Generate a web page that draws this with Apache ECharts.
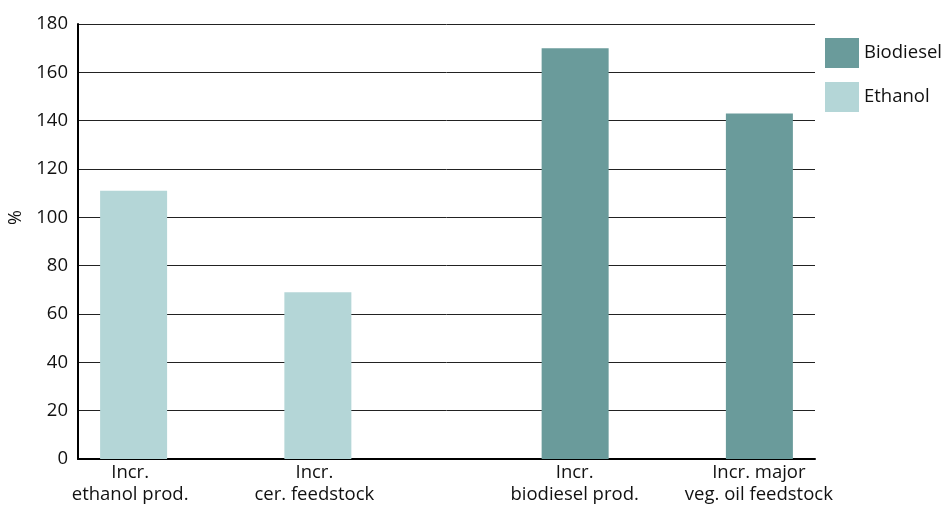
<!DOCTYPE html>
<html>
<head>
<meta charset="utf-8">
<script src="https://cdn.jsdelivr.net/npm/echarts@6/dist/echarts.min.js"></script>
<style>
  html, body { margin: 0; padding: 0; background: #fff; }
  #chart { width: 949px; height: 507px; }
</style>
</head>
<body>
<div id="chart"></div>
<script>
// Percentage increases by fuel type
const categories = [
  'Incr.\nethanol prod.',
  'Incr.\ncer. feedstock',
  'Incr.\nbiodiesel prod.',
  'Incr. major\nveg. oil feedstock'
];
const ethanolValues = [111, 69, null, null];
const biodieselValues = [null, null, 170, 143];
const yTicks = { min: 0, max: 180, interval: 20 };

const FONT = 'Open Sans';
const chart = echarts.init(document.getElementById('chart'), null, { renderer: 'canvas' });

chart.setOption({
  animation: false,
  textStyle: { fontFamily: FONT, color: '#111' },
  grid: { left: 78, right: 134, top: 24, bottom: 48, containLabel: false, outerBoundsMode: 'none' },
  legend: {
    orient: 'vertical',
    left: 825,
    top: 38,
    padding: 0,
    itemWidth: 34,
    itemHeight: 30,
    itemGap: 14,
    icon: 'rect',
    data: ['Biodiesel', 'Ethanol'],
    textStyle: { fontFamily: FONT, fontSize: 18.5, color: '#111' }
  },
  xAxis: {
    type: 'category',
    data: categories,
    axisLine: { lineStyle: { color: '#000', width: 2 } },
    axisTick: { show: false },
    axisLabel: {
      interval: 0,
      margin: 3,
      formatter: function (v, i) {
        // ethanol labels sit under the left bar slot, biodiesel under the right
        const key = i < 2 ? 'e' : 'b';
        return v.split('\n').map(function (s) { return '{' + key + '|' + s + '}'; }).join('\n');
      },
      rich: {
        e: { fontFamily: FONT, fontSize: 18.5, color: '#111', lineHeight: 22, padding: [0, 80, 0, 0] },
        b: { fontFamily: FONT, fontSize: 18.5, color: '#111', lineHeight: 22, padding: [0, 0, 0, 72] }
      }
    }
  },
  yAxis: {
    type: 'value',
    min: yTicks.min,
    max: yTicks.max,
    interval: yTicks.interval,
    name: '%',
    nameLocation: 'middle',
    nameRotate: 90,
    nameGap: 49,
    nameTextStyle: { fontFamily: FONT, fontSize: 18, color: '#111', padding: [0, 0, 0, 48] },
    axisLine: { show: true, lineStyle: { color: '#000', width: 2 } },
    axisTick: { show: false },
    axisLabel: { fontFamily: FONT, fontSize: 18.5, color: '#111', margin: 10 },
    splitLine: { lineStyle: { color: '#222', width: 1 } }
  },
  series: [
    {
      name: 'Ethanol',
      type: 'bar',
      data: ethanolValues,
      barWidth: 67,
      barGap: '9%',
      itemStyle: { color: '#b4d6d7' }
    },
    {
      name: 'Biodiesel',
      type: 'bar',
      data: biodieselValues,
      barWidth: 67,
      itemStyle: { color: '#6a9b9b' }
    }
  ]
});
</script>
</body>
</html>
